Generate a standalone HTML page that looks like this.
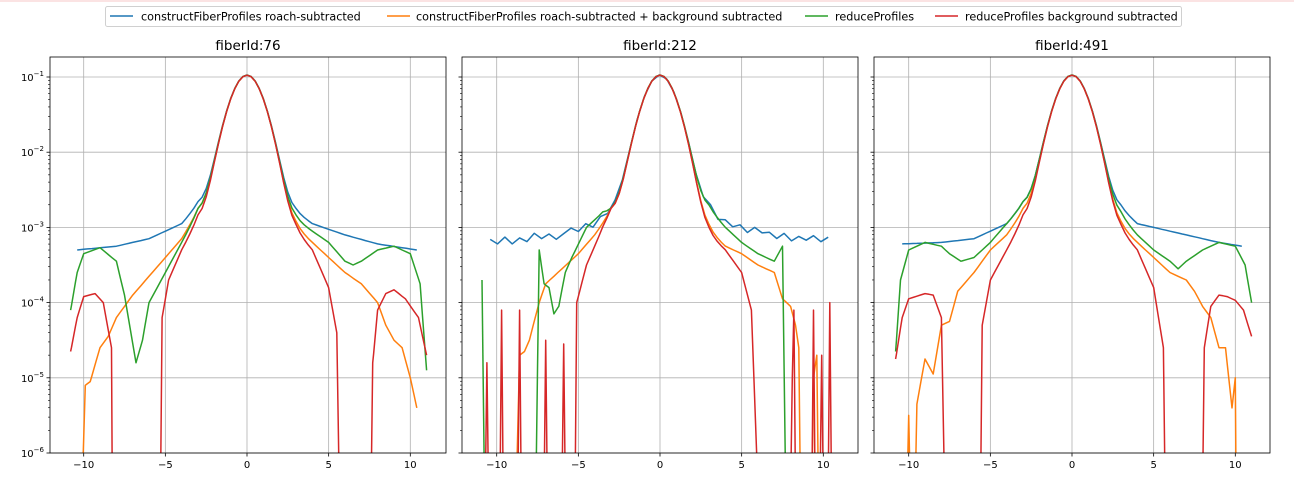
<!DOCTYPE html>
<html><head><meta charset="utf-8"><style>
body{margin:0;background:#fff;font-family:"Liberation Sans","DejaVu Sans",sans-serif;}
svg text{font-family:"DejaVu Sans","Liberation Sans",sans-serif;}
</style></head><body>
<svg id="s" width="1294" height="479" xmlns="http://www.w3.org/2000/svg">
<rect x="0" y="0" width="1294" height="2" fill="#fbe3e3"/>
<rect x="105.5" y="6.5" width="1076" height="20" rx="2" fill="#fff" stroke="#d0d0d0"/>
<line x1="110" y1="16" x2="133" y2="16" stroke="#1f77b4" stroke-width="1.5"/>
<text x="141" y="20.5" font-size="11.2">constructFiberProfiles roach-subtracted</text>
<line x1="387" y1="16" x2="410" y2="16" stroke="#ff7f0e" stroke-width="1.5"/>
<text x="416" y="20.5" font-size="11.2">constructFiberProfiles roach-subtracted + background subtracted</text>
<line x1="805" y1="16" x2="828" y2="16" stroke="#2ca02c" stroke-width="1.5"/>
<text x="835" y="20.5" font-size="11.2">reduceProfiles</text>
<line x1="935" y1="16" x2="958" y2="16" stroke="#d62728" stroke-width="1.5"/>
<text x="965" y="20.5" font-size="11.2">reduceProfiles background subtracted</text>
</svg>
<script>
const S=document.getElementById('s');const NS='http://www.w3.org/2000/svg';
function el(t,a,txt){const e=document.createElementNS(NS,t);for(const k in a)e.setAttribute(k,a[k]);if(txt!=null)e.textContent=txt;S.appendChild(e);return e;}
const panels=[
{L:50,x0:247,title:'fiberId:76',lab:true,
s:{
b:[[[-10.4,-3.3],[-8,-3.25],[-6,-3.15],[-4,-2.95],[-3,-2.7],[3,-2.8],[4,-2.95],[6,-3.1],[8,-3.22],[10.4,-3.3]]],
o:[[[-10.1,-6.5],[-9.9,-5.1],[-9.6,-5.05],[-9,-4.6],[-8.5,-4.45],[-8,-4.2],[-7,-3.9],[-6,-3.65],[-5,-3.4],[-4,-3.15],[-3,-2.8],[3,-3.0],[4,-3.2],[5,-3.4],[6,-3.6],[7,-3.75],[8,-4.0],[8.5,-4.3],[9,-4.5],[9.5,-4.6],[10,-5.0],[10.4,-5.4]]],
g:[[[-10.8,-4.1],[-10.4,-3.6],[-10,-3.35],[-9,-3.27],[-8,-3.45],[-7.5,-3.9],[-6.8,-4.8],[-6.4,-4.5],[-6,-4.0],[-5,-3.6],[-4,-3.2],[-3,-2.8],[3,-2.9],[5,-3.2],[6,-3.45],[6.5,-3.5],[7,-3.45],[8,-3.3],[9,-3.25],[10,-3.35],[10.6,-3.75],[11,-4.9]]],
r:[[[-10.8,-4.65],[-10.4,-4.2],[-10,-3.92],[-9.3,-3.88],[-8.8,-4.0],[-8.3,-4.6],[-8.25,-6.5]],[[-5.3,-6.5],[-5.2,-4.2],[-4.8,-3.7],[-4,-3.3],[-3,-2.9],[3,-3.05],[4,-3.3],[5,-3.8],[5.5,-4.4],[5.65,-6.5]],[[7.6,-6.5],[7.7,-4.8],[8,-4.1],[8.5,-3.88],[9,-3.83],[9.7,-3.95],[10.5,-4.2],[11,-4.7]]]}},
{L:462,x0:660,title:'fiberId:212',lab:false,
s:{
b:[[[-10.4,-3.2],[-6,-3.1],[-4,-2.95],[-3,-2.75],[3,-2.75],[4,-2.95],[6,-3.05],[8,-3.15],[10.4,-3.15]]],zig:true,
o:[[[-8.8,-6.5],[-8.6,-4.7],[-8.3,-4.65],[-8,-4.5],[-7.4,-4],[-7,-3.75],[-6,-3.55],[-5,-3.35],[-4,-3.1],[-3,-2.8],[3,-3.05],[4,-3.25],[5,-3.35],[6,-3.5],[7,-3.6],[7.5,-3.95],[8,-4.05],[8.3,-4.3],[8.5,-4.6],[8.6,-6.5]],[[9.3,-6.5],[9.4,-5.0],[9.6,-4.7],[9.7,-6.5]]],
g:[[[-10.9,-3.7],[-10.75,-6.5]],[[-7.6,-6.5],[-7.4,-3.3],[-7.1,-3.75],[-6.8,-3.8],[-6.5,-4.15],[-6.2,-4.05],[-5.8,-3.6],[-5.4,-3.4],[-4.5,-3.0],[-3.5,-2.8],[3,-2.75],[4,-3.0],[5,-3.2],[6,-3.35],[7,-3.45],[7.5,-3.25],[7.7,-6.5]]],
r:[[[-10.7,-6.5],[-10.6,-4.8],[-10.5,-6.5]],[[-9.8,-6.5],[-9.7,-4.1],[-9.6,-6.5]],[[-8.7,-6.5],[-8.6,-4.1],[-8.5,-6.5]],[[-7.1,-6.5],[-7.0,-4.5],[-6.9,-6.5]],[[-6.0,-6.5],[-5.9,-4.55],[-5.8,-6.5]],[[-5.2,-6.5],[-5.1,-4.0],[-4.5,-3.5],[-3.5,-3.0],[-3,-2.8],[3,-3.1],[4,-3.3],[5,-3.6],[5.6,-4.1],[6,-6.5]],[[8.0,-6.5],[8.1,-5.0],[8.2,-4.1],[8.3,-6.5]],[[9.3,-6.5],[9.4,-4.1],[9.5,-6.5]],[[9.8,-6.5],[9.9,-4.7],[10.0,-6.5]],[[10.3,-6.5],[10.4,-4.0],[10.5,-6.5]]]}},
{L:874,x0:1072,title:'fiberId:491',lab:false,
s:{
b:[[[-10.4,-3.22],[-8,-3.2],[-6,-3.15],[-4,-2.95],[-3,-2.7],[3,-2.75],[4,-2.95],[6,-3.05],[8,-3.15],[9,-3.2],[10.4,-3.25]]],
o:[[[-10.1,-6.5],[-10.0,-5.5],[-9.9,-6.5]],[[-9.6,-6.5],[-9.5,-5.35],[-9,-4.75],[-8.5,-4.95],[-8,-4.3],[-7.5,-4.25],[-7,-3.85],[-6,-3.6],[-5,-3.3],[-4,-3.1],[-3,-2.8],[3,-3.0],[4,-3.2],[5,-3.4],[6,-3.6],[7,-3.7],[7.5,-3.85],[8,-4.05],[8.5,-4.2],[9,-4.6],[9.4,-4.6],[9.8,-5.4],[10,-5.0],[10.05,-6.5]]],
g:[[[-10.8,-4.65],[-10.5,-3.7],[-10,-3.3],[-9,-3.2],[-8,-3.25],[-7.5,-3.35],[-6.8,-3.45],[-6,-3.4],[-5,-3.2],[-4,-2.95],[-3,-2.7],[3,-2.85],[4,-3.1],[5,-3.3],[6,-3.45],[6.5,-3.55],[7,-3.45],[8,-3.3],[9,-3.2],[10,-3.25],[10.6,-3.5],[11,-4.0]]],
r:[[[-10.8,-4.75],[-10.4,-4.2],[-10,-3.95],[-9,-3.88],[-8.5,-3.9],[-8,-4.2],[-7.8,-6.5]],[[-5.6,-6.5],[-5.5,-4.3],[-5,-3.7],[-4,-3.3],[-3,-2.9],[3,-3.05],[4,-3.3],[5,-3.8],[5.6,-4.6],[5.7,-6.5]],[[8,-6.5],[8.1,-4.6],[8.5,-4.05],[9,-3.9],[9.5,-3.92],[10,-3.97],[10.5,-4.1],[11,-4.45]]]}}
];
const col={b:'#1f77b4',o:'#ff7f0e',g:'#2ca02c',r:'#d62728'};
const T=57,B=453,W=396,U=16.33;
function Y(v){return 77+(-1-v)*75.2;}
function core(x){return -0.98-0.33*x*x+0.012*x*x*x*x/(1+0.3*x*x);}
function interp(p,x){for(let i=0;i<p.length-1;i++){if(x>=p[i][0]&&x<=p[i+1][0]){const t=(x-p[i][0])/(p[i+1][0]-p[i][0]||1);return p[i][1]+t*(p[i+1][1]-p[i][1]);}}return p[p.length-1][1];}
const jit=[0.04,-0.03,0.05,-0.05,0.02,-0.04,0.06,-0.02,0.03,-0.05,0.01,0.05,-0.03,0.04,-0.04,0.02,-0.05,0.05,-0.01,0.03,-0.04,0.04,-0.02,0.05,-0.03,0.02,-0.05,0.03,0.0,-0.03,0.04,-0.04,0.05,-0.02,0.03,-0.05,0.04,-0.01,0.02,-0.04,0.05,-0.03,0.03,-0.02,0.04,-0.04,0.02,-0.03];
panels.forEach((P,pi)=>{
  const X=x=>P.x0+x*U;
  const cp=el('clipPath',{id:'c'+pi});const cr=document.createElementNS(NS,'rect');
  cr.setAttribute('x',P.L);cr.setAttribute('y',T);cr.setAttribute('width',W);cr.setAttribute('height',B-T);cp.appendChild(cr);
  [-10,-5,0,5,10].forEach(v=>{el('line',{x1:X(v),y1:T,x2:X(v),y2:B,stroke:'#b0b0b0','stroke-width':0.8});
    el('line',{x1:X(v),y1:B,x2:X(v),y2:B+3.5,stroke:'#000','stroke-width':0.8});
    el('text',{x:X(v),y:B+15,'font-size':10,'text-anchor':'middle'},v<0?'\u2212'+(-v):''+v);});
  for(let d=-1;d>=-6;d--){el('line',{x1:P.L,y1:Y(d),x2:P.L+W,y2:Y(d),stroke:'#b0b0b0','stroke-width':0.8});
    el('line',{x1:P.L-3.5,y1:Y(d),x2:P.L,y2:Y(d),stroke:'#000','stroke-width':0.8});
    if(P.lab){const t=el('text',{x:P.L-6,y:Y(d)+4,'font-size':10,'text-anchor':'end'},'10');
      const ts=document.createElementNS(NS,'tspan');ts.setAttribute('dy',-5);ts.setAttribute('font-size',7);ts.textContent='\u2212'+(-d);t.appendChild(ts);}
    for(let m=2;m<=9;m++){const yy=Y(d+Math.log10(m));if(yy>=T)el('line',{x1:P.L-2,y1:yy,x2:P.L,y2:yy,stroke:'#000','stroke-width':0.6});}
  }
  const g=el('g',{'clip-path':'url(#c'+pi+')'});
  ['b','o','g','r'].forEach(k=>{
    P.s[k].forEach(seg=>{
      const xs=new Set(seg.map(p=>p[0]));const a=seg[0][0],b=seg[seg.length-1][0];
      for(let x=Math.ceil(a*4)/4;x<b;x+=0.25)xs.add(+x.toFixed(3));
      let arr=[...xs].sort((p,q)=>p-q);
      const zig=(k=='b'&&P.s.zig);
      if(zig){arr=[];for(let x=a;x<=b+1e-6;x+=0.45)arr.push(+x.toFixed(3));}
      let d='';arr.forEach((x,i)=>{let w=interp(seg,x);
        if(zig&&Math.abs(x)>2.8){w+=jit[i%jit.length];}
        let v=Math.log10(Math.pow(10,w)+Math.pow(10,core(x)));
        d+=(i?'L':'M')+X(x).toFixed(1)+','+Y(v).toFixed(1);});
      const pth=document.createElementNS(NS,'path');pth.setAttribute('d',d);pth.setAttribute('fill','none');pth.setAttribute('stroke',col[k]);pth.setAttribute('stroke-width',1.5);pth.setAttribute('stroke-linejoin','round');g.appendChild(pth);
    });
  });
  el('rect',{x:P.L,y:T,width:W,height:B-T,fill:'none',stroke:'#000','stroke-width':0.8});
  el('text',{x:P.L+W/2,y:50,'font-size':13.5,'text-anchor':'middle'},P.title);
});
</script>
</body></html>
